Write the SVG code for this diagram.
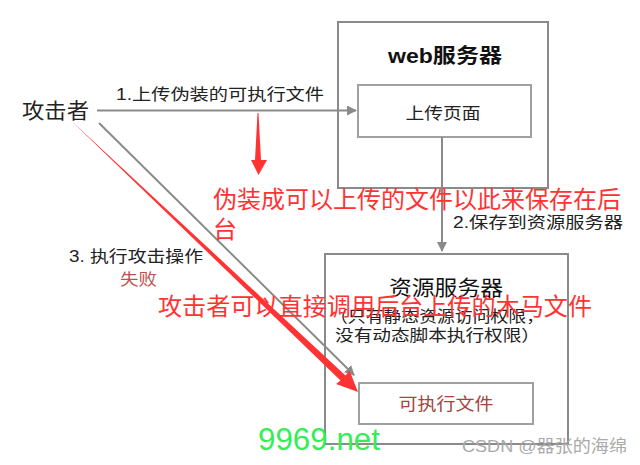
<svg xmlns="http://www.w3.org/2000/svg" width="640" height="465" viewBox="0 0 640 465">
<style>
text{font-family:"Liberation Sans","Noto Sans CJK SC",sans-serif}
.g{fill:#222;font-size:16px}
.box{fill:#fff;stroke:#8a8a8a;stroke-width:2}
.ibox{fill:#fff;stroke:#a0a0a0;stroke-width:2}
.conn{stroke:#8a8a8a;stroke-width:2;fill:none}
.red{fill:#ff3333;font-size:24px}
</style>
<defs>
<marker id="ah" viewBox="0 0 10 10" refX="9" refY="5" markerWidth="5" markerHeight="5" orient="auto" markerUnits="strokeWidth">
<path d="M0,0 L10,5 L0,10 z" fill="#8a8a8a"/>
</marker>
</defs>
<rect width="640" height="465" fill="#fff"/>
<g id="web-server">
<rect class="box" x="338" y="22" width="210" height="166"/>
<text x="445" y="63" text-anchor="middle" font-size="20" font-weight="bold" fill="#111" textLength="114" lengthAdjust="spacingAndGlyphs">web服务器</text>
</g>
<g id="upload-page">
<rect class="ibox" x="358" y="85" width="173" height="52"/>
<text class="g" x="443" y="119" text-anchor="middle" textLength="75" lengthAdjust="spacingAndGlyphs">上传页面</text>
</g>
<g id="resource-server">
<rect class="box" x="325" y="254" width="243" height="190"/>
<text x="446" y="295" text-anchor="middle" font-size="21" fill="#111" textLength="114" lengthAdjust="spacingAndGlyphs">资源服务器</text>
<text class="g" x="330" y="322" textLength="214" lengthAdjust="spacingAndGlyphs">（只有静态资源访问权限，</text>
<text class="g" x="335" y="341" textLength="205" lengthAdjust="spacingAndGlyphs">没有动态脚本执行权限）</text>
</g>
<g id="exec-file">
<rect class="ibox" x="359" y="383" width="174" height="41"/>
<text x="446" y="410" text-anchor="middle" font-size="17" fill="#a5443d" textLength="95" lengthAdjust="spacingAndGlyphs">可执行文件</text>
</g>
<g id="attacker">
<text x="22" y="118" font-size="21" fill="#222" textLength="67" lengthAdjust="spacingAndGlyphs">攻击者</text>
</g>
<g id="connectors">
<line class="conn" x1="97" y1="110.5" x2="356" y2="110.5" marker-end="url(#ah)"/>
<text class="g" x="116" y="100" fill="#333" textLength="208" lengthAdjust="spacingAndGlyphs">1.上传伪装的可执行文件</text>
<line class="conn" x1="442" y1="137" x2="442" y2="251" marker-end="url(#ah)"/>
<text class="g" x="453" y="228" fill="#333" textLength="170" lengthAdjust="spacingAndGlyphs">2.保存到资源服务器</text>
<line class="conn" x1="99" y1="123" x2="354" y2="375" marker-end="url(#ah)"/>
<text class="g" x="69" y="262" fill="#333" textLength="134" lengthAdjust="spacingAndGlyphs">3. 执行攻击操作</text>
<text x="120" y="285" font-size="16" fill="#c0504d" textLength="37" lengthAdjust="spacingAndGlyphs">失败</text>
</g>
<g id="annotations">
<polygon fill="#ff3333" points="257.5,113 258.5,113 261,160 267,160 258.5,175 251,160 255,160"/>
<polygon fill="#ff3333" points="61.6,111.6 62.4,112.4 345.5,375.6 349.5,370.5 358,392 336,384 340.5,380.4"/>
<text class="red" x="213" y="208" textLength="408" lengthAdjust="spacingAndGlyphs">伪装成可以上传的文件以此来保存在后</text>
<text class="red" x="213" y="238">台</text>
<text class="red" x="158" y="315" textLength="434" lengthAdjust="spacingAndGlyphs">攻击者可以直接调用后台上传的木马文件</text>
<text x="258" y="450" font-size="31" fill="#33ee55" textLength="122" lengthAdjust="spacingAndGlyphs">9969.net</text>
<text x="462" y="452" font-size="17" fill="#aaaaaa" textLength="165" lengthAdjust="spacingAndGlyphs">CSDN @器张的海绵</text>
</g>
</svg>
